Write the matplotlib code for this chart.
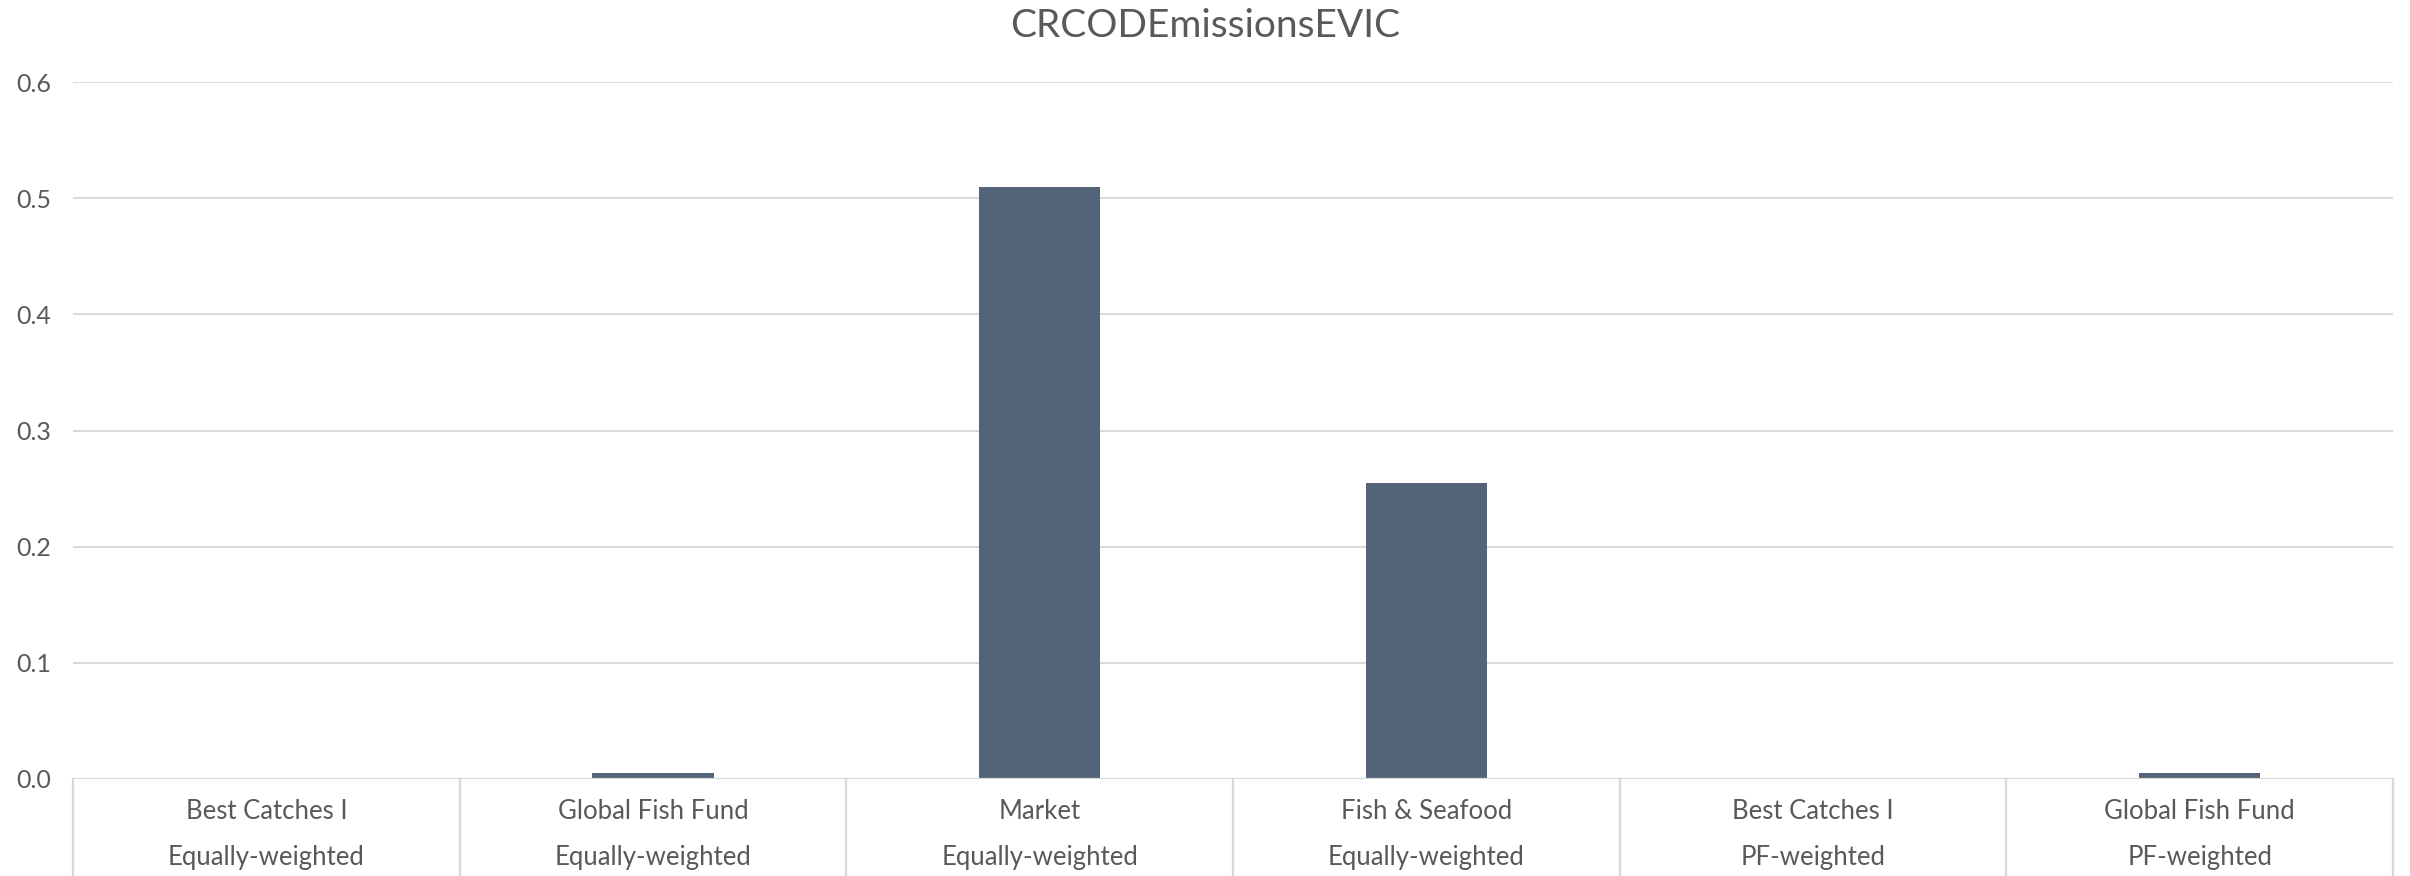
import numpy as np
import matplotlib
matplotlib.use('Agg')
import matplotlib.pyplot as plt

plt.rcParams['font.family'] = ['Lato', 'DejaVu Sans']

# data
funds = ['Best Catches I', 'Global Fish Fund', 'Market', 'Fish & Seafood', 'Best Catches I', 'Global Fish Fund']
weighting = ['Equally-weighted', 'Equally-weighted', 'Equally-weighted', 'Equally-weighted', 'PF-weighted', 'PF-weighted']
values = [0.0, 0.0055, 0.51, 0.255, 0.0, 0.0055]
yticks = [0.0, 0.1, 0.2, 0.3, 0.4, 0.5, 0.6]

text_col = '#595959'
grid_col = '#D9D9D9'
bar_col = '#536479'

fig = plt.figure(figsize=(24.1, 8.76), dpi=100)
ax = fig.add_axes([73 / 2410, 97 / 876, 2320 / 2410, 697 / 876])

x = np.arange(len(values))
ax.bar(x, values, width=0.313, color=bar_col, zorder=3)

ax.set_xlim(-0.5, len(values) - 0.5)
ax.set_ylim(0, 0.6)
ax.set_yticks(yticks)
ax.set_yticklabels(['%.1f' % v for v in yticks], fontsize=18, color=text_col)
ax.tick_params(axis='y', length=0, pad=16)
ax.set_xticks([])
ax.yaxis.grid(True, color=grid_col, lw=1.4, zorder=0)
for s in ax.spines.values():
    s.set_visible(False)
ax.axhline(0, color=grid_col, lw=1.6, zorder=4)

# category separators below the axis
xt = ax.get_xaxis_transform()
for b in np.arange(-0.5, len(values), 1.0):
    ax.plot([b, b], [0, -0.2], transform=xt, color=grid_col, lw=1.6, clip_on=False)

for i in range(len(values)):
    ax.text(i, -0.046, funds[i], transform=xt, ha='center', va='center', fontsize=18.5, color=text_col)
    ax.text(i, -0.113, weighting[i], transform=xt, ha='center', va='center', fontsize=18.5, color=text_col)

fig.text(0.5, 1 - 26 / 876, 'CRCODEmissionsEVIC', ha='center', va='center', fontsize=28, color=text_col)

fig.savefig('out.png', dpi=100)
